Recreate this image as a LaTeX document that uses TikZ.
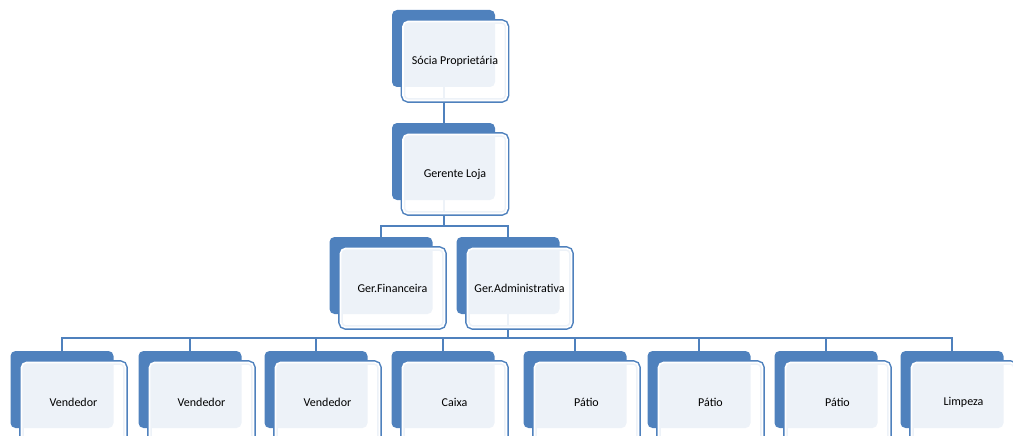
\documentclass[tikz,border=0pt]{standalone}
\usepackage{fontspec}
\setmainfont{Carlito}
\usetikzlibrary{positioning}
\definecolor{boxblue}{RGB}{79,129,189}
\tikzset{
  back/.style={fill=boxblue, rounded corners=5pt, minimum width=103pt, minimum height=77pt, inner sep=0pt},
  front/.style={rounded corners=5pt, minimum width=104pt, minimum height=79pt, inner sep=0pt,
    fill=white, fill opacity=0.9, text opacity=1, draw=white, line width=1.6pt,
    preaction={draw=boxblue, line width=4.6pt}, font=\fontsize{12}{14}\selectfont, on grid},
  conn/.style={draw=boxblue, line width=2pt},
}
\begin{document}
\begin{tikzpicture}[x=1pt, y=-1pt]
    \useasboundingbox (0,0) rectangle (1013,436);
    \clip (0,0) rectangle (1013,436);

    % back boxes
    \node[back] (socia) at (443.5,48.5) {};
    \node[back] (gerente) at (443.5,161.5) {};
    \node[back] (fin) at (381,275.5) {};
    \node[back] (adm) at (508,275.5) {};
    \foreach \x/\n in {62/v1, 190/v2, 316/v3, 443/caixa, 575/p1, 699/p2, 826/p3, 952/limpeza}
        \node[back] (\n) at (\x,389.5) {};

    % Draw the connectors
    \draw[conn] (socia.south) -- (gerente.north);
    \draw[conn] (gerente.south) -- ++(0,26) -| (fin.north);
    \draw[conn] (gerente.south) -- ++(0,26) -| (adm.north);
    \foreach \n in {v1, v2, v3, caixa, p1, p2, p3, limpeza}
        \draw[conn] (adm.south) -- ++(0,24) -| (\n.north);

    % front boxes
    \node[front, below right=12.5pt and 11.5pt of socia] (sociaF) {Sócia Proprietária};
    \node[front, below right=12.5pt and 11.5pt of gerente] (gerenteF) {Gerente Loja};
    \node[front, below right=12.5pt and 11.5pt of fin] (finF) {Ger.Financeira};
    \node[front, below right=12.5pt and 11.5pt of adm] (admF) {Ger.Administrativa};
    \foreach \n/\t in {v1/Vendedor, v2/Vendedor, v3/Vendedor, caixa/Caixa, p1/Pátio, p2/Pátio, p3/Pátio, limpeza/Limpeza}
        \node[front, below right=12.5pt and 11.5pt of \n] (\n F) {\t};
\end{tikzpicture}
\end{document}
